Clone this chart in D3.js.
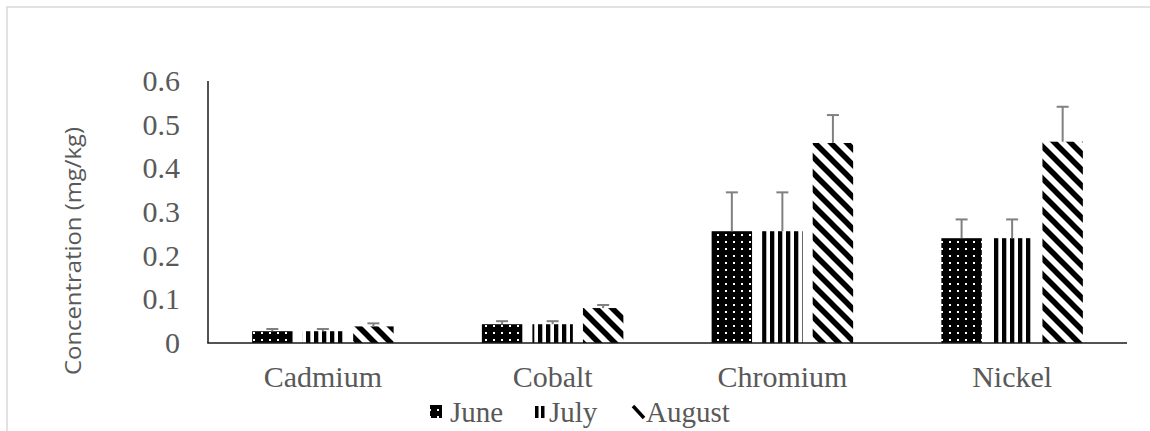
<!DOCTYPE html>
<html>
<head>
<meta charset="utf-8">
<script src="https://cdn.jsdelivr.net/npm/d3@7"></script>
<style>
  html, body { margin: 0; padding: 0; background: #fff; }
  svg { display: block; }
</style>
</head>
<body>
<svg id="chart" width="1150" height="431"></svg>
<script>
// ---- data ----
const categories = ["Cadmium", "Cobalt", "Chromium", "Nickel"];
const seriesNames = ["June", "July", "August"];
const juneValues   = [0.027, 0.043, 0.256, 0.240];
const julyValues   = [0.027, 0.043, 0.256, 0.240];
const augustValues = [0.038, 0.080, 0.458, 0.461];
const juneErrors   = [0.005, 0.007, 0.089, 0.043];
const julyErrors   = [0.005, 0.007, 0.089, 0.043];
const augustErrors = [0.007, 0.007, 0.064, 0.080];
const yTicks = [0, 0.1, 0.2, 0.3, 0.4, 0.5, 0.6];
const yTickLabels = ["0", "0.1", "0.2", "0.3", "0.4", "0.5", "0.6"];
const yTitle = "Concentration (mg/kg)";

const seriesValues = [juneValues, julyValues, augustValues];
const seriesErrors = [juneErrors, julyErrors, augustErrors];
const patternIds = ["pJune", "pJuly", "pAug"];

const svg = d3.select("#chart");
const textColor = "#595959";
const serif = '"Liberation Serif", "Times New Roman", serif';

// outer border
svg.append("rect").attr("x", 7).attr("y", 7).attr("width", 1160).attr("height", 440)
  .attr("fill", "none").attr("stroke", "#d9d9d9").attr("stroke-width", 1.5);

// patterns
const defs = svg.append("defs");
const pj = defs.append("pattern").attr("id", "pJune").attr("patternUnits", "userSpaceOnUse")
  .attr("width", 8).attr("height", 7);
pj.append("rect").attr("width", 8).attr("height", 7).attr("fill", "#000");
pj.append("rect").attr("x", 5).attr("y", 3).attr("width", 2).attr("height", 2).attr("fill", "#fff");

const pv = defs.append("pattern").attr("id", "pJuly").attr("patternUnits", "userSpaceOnUse")
  .attr("width", 8).attr("height", 8);
pv.append("rect").attr("width", 8).attr("height", 8).attr("fill", "#fff");
pv.append("rect").attr("x", 2).attr("width", 4.3).attr("height", 8).attr("fill", "#000");

const pa = defs.append("pattern").attr("id", "pAug").attr("patternUnits", "userSpaceOnUse")
  .attr("width", 16).attr("height", 16);
pa.append("rect").attr("width", 16).attr("height", 16).attr("fill", "#fff");
pa.append("path").attr("d", "M-8,-8 L24,24 M-8,8 L8,24 M8,-8 L24,8")
  .attr("stroke", "#000").attr("stroke-width", 5.5);

// scales
const x0 = d3.scaleBand().domain(categories).range([208, 1127]).padding(0);
const x1 = d3.scaleBand().domain(seriesNames).range([0, 141.5]).paddingInner(0.2);
const y = d3.scaleLinear().domain([0, 0.6]).range([343, 81]);

// bars
seriesNames.forEach((s, si) => {
  const g = svg.append("g");
  categories.forEach((c, ci) => {
    const v = seriesValues[si][ci];
    const gx = x0(c) + x0.bandwidth() / 2 - 70.75 + x1(s);
    g.append("rect")
      .attr("x", gx).attr("y", y(v))
      .attr("width", x1.bandwidth()).attr("height", y(0) - y(v))
      .attr("fill", `url(#${patternIds[si]})`);
  });
});

// error bars
seriesNames.forEach((s, si) => {
  categories.forEach((c, ci) => {
    const v = seriesValues[si][ci];
    const e = seriesErrors[si][ci];
    const cx = x0(c) + x0.bandwidth() / 2 - 70.75 + x1(s) + x1.bandwidth() / 2;
    svg.append("line").attr("x1", cx).attr("x2", cx).attr("y1", y(v)).attr("y2", y(v + e))
      .attr("stroke", "#808080").attr("stroke-width", 2);
    svg.append("line").attr("x1", cx - 6).attr("x2", cx + 6).attr("y1", y(v + e)).attr("y2", y(v + e))
      .attr("stroke", "#808080").attr("stroke-width", 2);
  });
});

// axes lines
svg.append("line").attr("x1", 208).attr("x2", 208).attr("y1", y(0.6)).attr("y2", y(0))
  .attr("stroke", "#1a1a1a").attr("stroke-width", 1.5);
svg.append("line").attr("x1", 207.25).attr("x2", 1127).attr("y1", y(0)).attr("y2", y(0))
  .attr("stroke", "#1a1a1a").attr("stroke-width", 1.5);

// y tick labels
const yAxis = d3.axisLeft(y).tickValues(yTicks).tickSize(0).tickPadding(28)
  .tickFormat((d, i) => yTickLabels[i]);
const ya = svg.append("g").attr("transform", "translate(208,0)").call(yAxis);
ya.attr("font-family", serif).attr("font-size", 30);
ya.select(".domain").remove();
ya.selectAll("text").attr("fill", textColor).style("font-family", serif).style("font-size", "30px");

// x labels
const xAxis = d3.axisBottom(x0).tickSize(0).tickPadding(0);
const xa = svg.append("g").attr("transform", "translate(0,343)").call(xAxis);
xa.attr("font-family", serif).attr("font-size", 30);
xa.select(".domain").remove();
xa.selectAll("text").attr("fill", textColor).attr("dy", null).attr("y", 44)
  .style("font-family", serif).style("font-size", "30px");

// y title
svg.append("text")
  .attr("transform", "translate(81,251) rotate(-90)")
  .attr("text-anchor", "middle")
  .attr("fill", textColor)
  .attr("textLength", 248).attr("lengthAdjust", "spacingAndGlyphs")
  .style("font-family", '"Open Sans", sans-serif').style("font-size", "21px")
  .text(yTitle);

// legend
const legendX = [430, 535, 633];
const legendTextX = [450, 549, 646];
seriesNames.forEach((s, si) => {
  if (si === 0) {
    svg.append("rect").attr("x", legendX[si]).attr("y", 405).attr("width", 12).attr("height", 13)
      .attr("fill", `url(#${patternIds[si]})`);
  } else if (si === 1) {
    svg.append("rect").attr("x", legendX[si]).attr("y", 406).attr("width", 3.5).attr("height", 12).attr("fill", "#000");
    svg.append("rect").attr("x", legendX[si] + 6).attr("y", 406).attr("width", 3.5).attr("height", 12).attr("fill", "#000");
  } else {
    svg.append("line").attr("x1", legendX[si]).attr("y1", 406).attr("x2", legendX[si] + 11).attr("y2", 418)
      .attr("stroke", "#000").attr("stroke-width", 3.5);
  }
  svg.append("text").attr("x", legendTextX[si]).attr("y", 422)
    .attr("fill", textColor).style("font-family", serif).style("font-size", "29px")
    .text(s);
});
</script>
</body>
</html>
